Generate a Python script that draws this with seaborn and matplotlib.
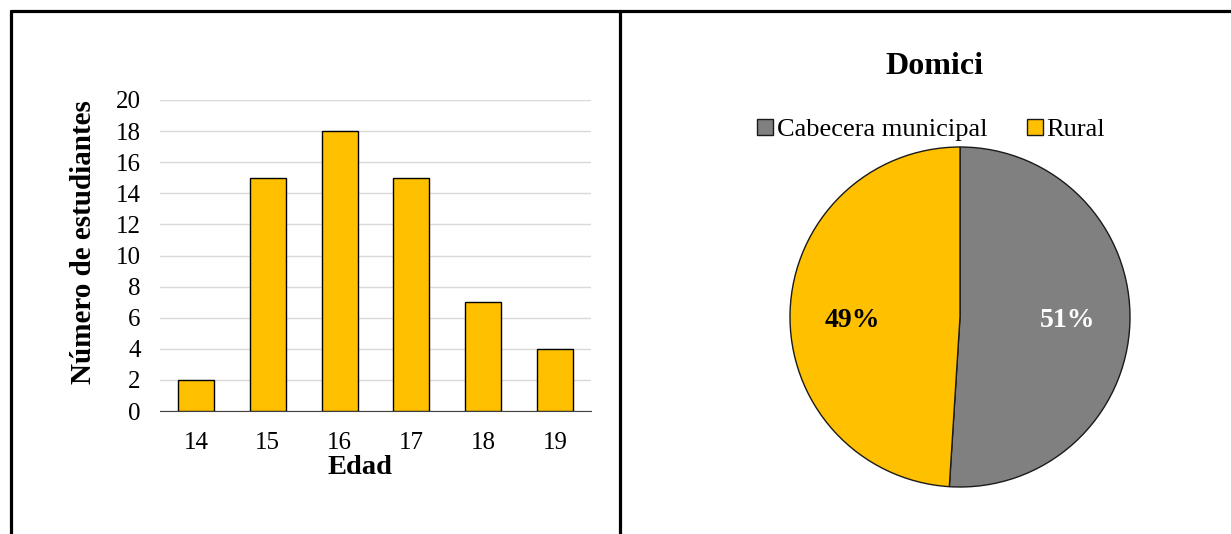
import matplotlib
matplotlib.use("Agg")
import matplotlib.pyplot as plt
import seaborn as sns
import pandas as pd
from matplotlib.lines import Line2D

# datos
edades = ["14", "15", "16", "17", "18", "19"]
estudiantes = [2, 15, 18, 15, 7, 4]
domicilio = ["Cabecera municipal", "Rural"]
porcentajes = [51, 49]
colores_pie = ["#808080", "#FFC000"]
color_barra = "#FFC000"

sns.set_style("white")
plt.rcParams["font.family"] = ["Liberation Serif", "DejaVu Serif"]
plt.rcParams["text.color"] = "black"
plt.rcParams["xtick.color"] = "black"
plt.rcParams["ytick.color"] = "black"
plt.rcParams["axes.labelcolor"] = "black"

fig = plt.figure(figsize=(12.31, 5.34), dpi=100)

# marco tipo tabla
lw = 2.3
fig.add_artist(Line2D([11 / 1231, 1], [1 - 11 / 534, 1 - 11 / 534], color="black", lw=lw, transform=fig.transFigure))
fig.add_artist(Line2D([11 / 1231, 11 / 1231], [0, 1 - 11 / 534], color="black", lw=lw, transform=fig.transFigure))
fig.add_artist(Line2D([620 / 1231, 620 / 1231], [0, 1 - 11 / 534], color="black", lw=lw, transform=fig.transFigure))

# grafico de barras
ax1 = fig.add_axes([160 / 1231, (534 - 411) / 534, 431 / 1231, 311 / 534])
df = pd.DataFrame({"Edad": edades, "n": estudiantes})
sns.barplot(data=df, x="Edad", y="n", color=color_barra, width=0.5,
            edgecolor="black", linewidth=1, saturation=1, ax=ax1, zorder=3)
ax1.set_ylim(0, 20)
ax1.set_yticks(range(0, 21, 2))
ax1.yaxis.grid(True, color="#d9d9d9", lw=1, zorder=0)
ax1.set_axisbelow(True)
for s in ["top", "right", "left"]:
    ax1.spines[s].set_visible(False)
ax1.spines["bottom"].set_color("#404040")
ax1.tick_params(axis="both", length=0, labelsize=18)
ax1.tick_params(axis="y", pad=14)
ax1.tick_params(axis="x", pad=15)
ax1.set_xlabel("Edad", fontsize=20.5, fontweight="bold")
ax1.xaxis.set_label_coords((360 - 160) / 431, -(468 - 411) / 311)
ax1.xaxis.label.set_va("center")
ax1.set_ylabel("Número de estudiantes", fontsize=21, fontweight="bold")
ax1.yaxis.set_label_coords(-(160 - 84) / 431, (411 - 242) / 311)
ax1.yaxis.label.set_va("center")

# grafico de torta
ax2 = fig.add_axes([790 / 1231, (534 - 487) / 534, 340 / 1231, 340 / 534])
wedges, textos, autotextos = ax2.pie(
    porcentajes, colors=colores_pie, startangle=90, counterclock=False,
    autopct="%d%%", pctdistance=0.62,
    wedgeprops=dict(edgecolor="#1a1a1a", linewidth=1),
    textprops=dict(fontsize=20, fontweight="bold"))
autotextos[0].set_color("white")
autotextos[1].set_color("black")
autotextos[0].set_position((0.63, -0.02))
autotextos[1].set_position((-0.635, -0.02))
ax2.set_xlim(-1, 1)
ax2.set_ylim(-1, 1)
ax2.set_aspect("equal")

fig.text(935 / 1231, 1 - 67 / 534, "Domici", fontsize=23, fontweight="bold",
         ha="center", va="center")
fig.legend(wedges, domicilio, loc="center", bbox_to_anchor=(931 / 1231, 1 - 130 / 534),
           ncol=2, frameon=False, fontsize=19, handlelength=0.6, handleheight=0.6,
           handletextpad=0.15, columnspacing=1.5, borderpad=0)

fig.savefig("out.png", dpi=100)
